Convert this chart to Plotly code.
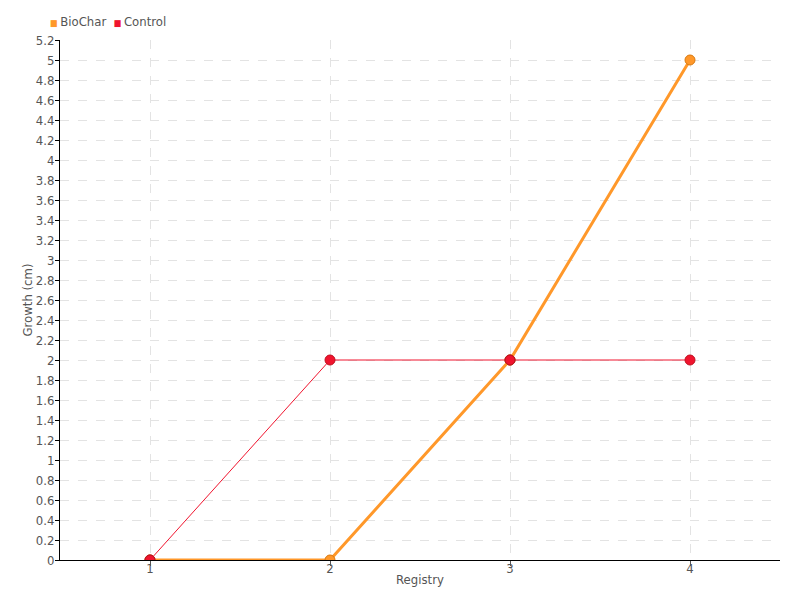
import plotly.graph_objects as go

registry = [1, 2, 3, 4]
biochar = [0, 0, 2, 5]
control = [0, 2, 2, 2]
series_names = ["BioChar", "Control"]

orange = "#ff982a"
red = "#f0142e"
font_family = "DejaVu Sans Condensed, DejaVu Sans, sans-serif"

# the page shows the figure with an 8px body offset; margins compensate
L, R, T, B = 52, 28, 32, 48
PW, PH = 800 - L - R, 600 - T - B

fig = go.Figure()
fig.add_trace(go.Scatter(
    x=registry, y=control, mode="lines+markers", name=series_names[1],
    line=dict(color=red, width=1),
    marker=dict(color=red, size=10, line=dict(color="#c0101f", width=1)),
    showlegend=False))
fig.add_trace(go.Scatter(
    x=registry, y=biochar, mode="lines+markers", name=series_names[0],
    line=dict(color=orange, width=3),
    marker=dict(color=orange, size=10, line=dict(color="#d97a10", width=1)),
    showlegend=False))
# control points at 1 and 3 drawn on top of the BioChar line, as in the reference
fig.add_trace(go.Scatter(
    x=[registry[0], registry[2]], y=[control[0], control[2]], mode="markers",
    marker=dict(color=red, size=10, line=dict(color="#b0101f", width=1)),
    showlegend=False, hoverinfo="skip"))

legend_text = (f"<span style='color:{orange};font-size:9px'>■ </span>{series_names[0]}  "
               f"<span style='color:{red};font-size:9px'>■ </span>{series_names[1]}")
fig.add_annotation(text=legend_text, xref="paper", yref="paper",
                   x=-12/PW, y=1 + 18/PH, xanchor="left", yanchor="middle",
                   showarrow=False, font=dict(size=13, color="#555555"))

fig.update_layout(
    width=800, height=600,
    margin=dict(l=L, r=R, t=T, b=B, autoexpand=False),
    paper_bgcolor="white", plot_bgcolor="white",
    font=dict(family=font_family, size=13, color="#555555"),
    showlegend=False,
    xaxis=dict(range=[0.5, 4.5], tickvals=registry, ticktext=[str(r) for r in registry],
               showgrid=True, gridcolor="#e3e3e3", griddash="dash", gridwidth=1,
               showline=True, linecolor="black", linewidth=1,
               ticks="outside", ticklen=5, tickcolor="#555555",
               ticklabelstandoff=-9,
               zeroline=False, automargin=False,
               title=dict(text="Registry", standoff=0, font=dict(size=13))),
    yaxis=dict(range=[0, 5.2], dtick=0.2, tick0=0,
               showgrid=True, gridcolor="#e3e3e3", griddash="dash", gridwidth=1,
               showline=True, linecolor="black", linewidth=1,
               ticks="outside", ticklen=4, tickcolor="black",
               zeroline=False, automargin=False, ticklabelstandoff=-2,
               title=dict(text="Growth (cm)", standoff=0, font=dict(size=13))),
)

fig.write_html("out.html")
